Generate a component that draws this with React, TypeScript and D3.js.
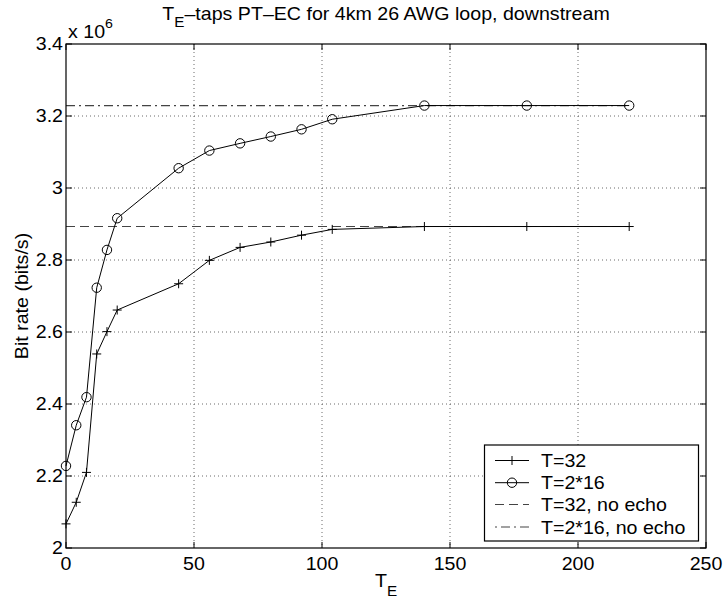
import React from "react";
import * as d3 from "d3";

const taps = [0, 4, 8, 12, 16, 20, 44, 56, 68, 80, 92, 104, 140, 180, 220];
const rateT32 = [2.067, 2.127, 2.21, 2.539, 2.601, 2.661, 2.734, 2.799, 2.835, 2.85, 2.869, 2.885, 2.893, 2.893, 2.893];
const rateT216 = [2.228, 2.341, 2.419, 2.723, 2.828, 2.916, 3.055, 3.104, 3.124, 3.143, 3.163, 3.191, 3.229, 3.229, 3.229];
const noEchoT32 = 2.893;
const noEchoT216 = 3.229;
const xTicks = [0, 50, 100, 150, 200, 250];
const yTicks = [2, 2.2, 2.4, 2.6, 2.8, 3, 3.2, 3.4];
const legendLabels = ["T=32", "T=2*16", "T=32, no echo", "T=2*16, no echo"];

const W = 723, H = 607;
const L = 66, R = 706, T = 44, B = 548;
const FONT = "'Liberation Sans', Arial, Helvetica, sans-serif";
const FS = 18;
const SX = 1.09;

function Txt(props: { x: number; y: number; anchor?: string; rot?: number; children: React.ReactNode; fs?: number }) {
  const { x, y, anchor = "start", rot = 0, children, fs = FS } = props;
  return (
    <g transform={`translate(${x},${y}) rotate(${rot}) scale(${SX},1)`}>
      <text x={0} y={0} fontSize={fs} textAnchor={anchor}>{children}</text>
    </g>
  );
}

export default function App() {
  const x = d3.scaleLinear().domain([0, 250]).range([L, R]);
  const y = d3.scaleLinear().domain([2, 3.4]).range([B, T]);
  const line = d3.line<[number, number]>().x((d) => x(d[0])).y((d) => y(d[1]));
  const s1: [number, number][] = taps.map((t, i) => [t, rateT32[i]]);
  const s2: [number, number][] = taps.map((t, i) => [t, rateT216[i]]);
  const x0 = taps[0], x1 = taps[taps.length - 1];
  const tk = 6;

  const plus = (cx: number, cy: number, k: string) => (
    <path key={k} d={`M${cx - 4.5},${cy}H${cx + 4.5}M${cx},${cy - 4.5}V${cy + 4.5}`} stroke="#000" strokeWidth={1} fill="none" />
  );
  const circ = (cx: number, cy: number, k: string) => (
    <circle key={k} cx={cx} cy={cy} r={4.7} stroke="#000" strokeWidth={1} fill="none" />
  );

  const legX = 484.5, legY = 445, legW = 214, legH = 96;
  const rowY = [460.5, 482.7, 504.5, 527];

  return (
    <svg width={W} height={H} style={{ position: "absolute", left: 0, top: 0, background: "#fff" }} fontFamily={FONT}>
      <rect x={0} y={0} width={W} height={H} fill="#fff" />
      {/* grid */}
      {xTicks.slice(1, -1).map((v) => (
        <line key={"gx" + v} x1={x(v)} x2={x(v)} y1={T} y2={B} stroke="#444" strokeWidth={0.8} strokeDasharray="1,3" />
      ))}
      {yTicks.slice(1, -1).map((v) => (
        <line key={"gy" + v} x1={L} x2={R} y1={y(v)} y2={y(v)} stroke="#444" strokeWidth={0.8} strokeDasharray="1,3" />
      ))}
      {/* reference lines */}
      <line x1={x(x0)} x2={x(x1)} y1={y(noEchoT32)} y2={y(noEchoT32)} stroke="#444" strokeWidth={1.2} strokeDasharray="9,5" />
      <line x1={x(x0)} x2={x(x1)} y1={y(noEchoT216)} y2={y(noEchoT216)} stroke="#444" strokeWidth={1.2} strokeDasharray="9,4,2,4" />
      {/* series */}
      <path d={line(s1) || ""} fill="none" stroke="#000" strokeWidth={1} />
      <path d={line(s2) || ""} fill="none" stroke="#000" strokeWidth={1} />
      {s1.map((d, i) => plus(x(d[0]), y(d[1]), "p" + i))}
      {s2.map((d, i) => circ(x(d[0]), y(d[1]), "c" + i))}
      {/* axes box */}
      <rect x={L} y={T} width={R - L} height={B - T} fill="none" stroke="#000" strokeWidth={1.2} />
      {xTicks.map((v) => (
        <g key={"xt" + v}>
          <line x1={x(v)} x2={x(v)} y1={B} y2={B - tk} stroke="#000" />
          <line x1={x(v)} x2={x(v)} y1={T} y2={T + tk} stroke="#000" />
          <Txt x={x(v)} y={570} anchor="middle">{v}</Txt>
        </g>
      ))}
      {yTicks.map((v) => (
        <g key={"yt" + v}>
          <line x1={L} x2={L + tk} y1={y(v)} y2={y(v)} stroke="#000" />
          <line x1={R} x2={R - tk} y1={y(v)} y2={y(v)} stroke="#000" />
          <Txt x={L - 3} y={y(v) + 6.4} anchor="end">{d3.format("~g")(v)}</Txt>
        </g>
      ))}
      {/* exponent */}
      <Txt x={L + 2} y={38}>x 10<tspan dy={-10} fontSize={13}>6</tspan></Txt>
      {/* title */}
      <Txt x={(L + R) / 2} y={20} anchor="middle">
        T<tspan dy={7} fontSize={14}>E</tspan><tspan dy={-7}>–taps PT–EC for 4km 26 AWG loop, downstream</tspan>
      </Txt>
      {/* x label */}
      <Txt x={(L + R) / 2} y={587} anchor="middle">
        T<tspan dy={9} fontSize={14}>E</tspan>
      </Txt>
      {/* y label */}
      <g transform={`translate(28,${(T + B) / 2}) rotate(-90) scale(${SX},1)`}>
        <text fontSize={FS} textAnchor="middle">Bit rate (bits/s)</text>
      </g>
      {/* legend */}
      <rect x={legX} y={legY} width={legW} height={legH} fill="#fff" stroke="#000" strokeWidth={1.2} />
      <line x1={495} x2={529} y1={rowY[0]} y2={rowY[0]} stroke="#000" />
      {plus(512, rowY[0], "lp")}
      <line x1={495} x2={529} y1={rowY[1]} y2={rowY[1]} stroke="#000" />
      {circ(512, rowY[1], "lc")}
      <line x1={495} x2={529} y1={rowY[2]} y2={rowY[2]} stroke="#444" strokeWidth={1.2} strokeDasharray="9,5" />
      <line x1={495} x2={529} y1={rowY[3]} y2={rowY[3]} stroke="#444" strokeWidth={1.2} strokeDasharray="2,4,9,4" />
      {legendLabels.map((s, i) => (
        <Txt key={"lg" + i} x={541} y={rowY[i] + 6.5}>{s}</Txt>
      ))}
    </svg>
  );
}
